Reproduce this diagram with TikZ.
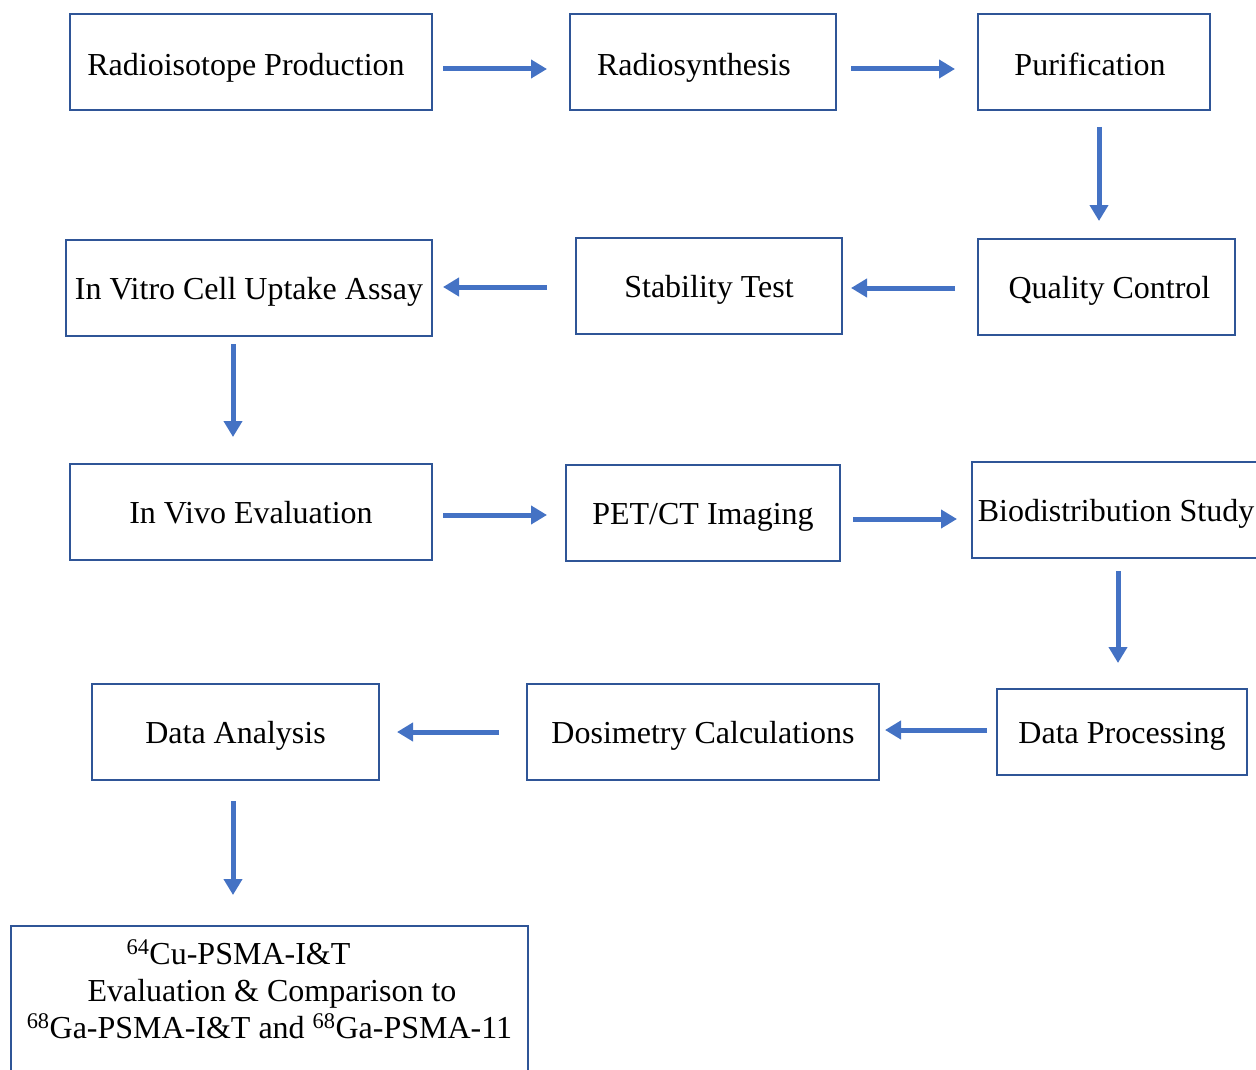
\documentclass[tikz,border=0pt]{standalone}
\usepackage{fontspec}
\setmainfont{Liberation Serif}
\usetikzlibrary{arrows.meta}
\definecolor{boxblue}{HTML}{2F5597}
\definecolor{arrblue}{HTML}{4472C4}
\tikzset{
  box/.style={draw=boxblue, line width=2pt, rectangle, inner sep=0pt, minimum height=96pt,
    font=\fontsize{32}{37}\selectfont, text=black, text height=22pt, text depth=0pt},
  toprow/.style={text height=28pt},
  arr/.style={draw=arrblue, line width=5pt, -{Triangle[length=16pt,width=18pt]}}
}
\newcommand{\padgap}[1]{\makebox[#1]{}}
\begin{document}
\begin{tikzpicture}[x=1pt,y=-1pt]
\useasboundingbox (0,0) rectangle (1256,1070);
\node[box, toprow, minimum width=362pt] (n1) at (251,62) {Radioisotope Production\padgap{10pt}};
\node[box, toprow, minimum width=266pt] (n2) at (703,62) {Radiosynthesis\padgap{18pt}};
\node[box, toprow, minimum width=232pt] (n3) at (1094,62) {Purification\padgap{8pt}};
\node[box, minimum width=257pt] (n4) at (1106.5,287) {\padgap{6pt}Quality Control};
\node[box, minimum width=266pt] (n5) at (709,286) {Stability Test};
\node[box, minimum width=366pt] (n6) at (249,288) {In Vitro Cell Uptake Assay};
\node[box, minimum width=362pt] (n7) at (251,512) {In Vivo Evaluation};
\node[box, minimum width=274pt] (n8) at (703,513) {PET/CT Imaging};
\node[box, minimum width=288pt] (n9) at (1116,510) {Biodistribution Study};
\node[box, minimum width=250pt, minimum height=86pt] (n10) at (1122,732) {Data Processing};
\node[box, minimum width=352pt] (n11) at (703,732) {Dosimetry Calculations};
\node[box, minimum width=287pt] (n12) at (235.5,732) {Data Analysis};
\node[box, minimum width=517pt, minimum height=0pt, align=center, anchor=north,
  text height=112pt, text depth=160pt] (n13) at (269.5,925)
  {\textsuperscript{64}Cu-PSMA-I\&T\padgap{62pt}\\
   \padgap{5pt}Evaluation \& Comparison to\\
   \textsuperscript{68}Ga-PSMA-I\&T and \textsuperscript{68}Ga-PSMA-11};
% connectors
\draw[arr, shorten <=10pt, shorten >=22pt] ([yshift=-7pt]n1.east) -- ([yshift=-7pt]n2.west);
\draw[arr, shorten <=14pt, shorten >=22pt] ([yshift=-7pt]n2.east) -- ([yshift=-7pt]n3.west);
\draw[arr, shorten <=16pt, shorten >=17pt] ([xshift=5pt]n3.south) -- ([xshift=-7.5pt]n4.north);
\draw[arr, shorten <=22pt, shorten >=8pt] ([yshift=-1pt]n4.west) -- ([yshift=-2pt]n5.east);
\draw[arr, shorten <=28pt, shorten >=10pt] ([yshift=-1pt]n5.west) -- ([yshift=1pt]n6.east);
\draw[arr, shorten <=7pt, shorten >=26pt] ([xshift=-16pt]n6.south) -- ([xshift=-18pt]n7.north);
\draw[arr, shorten <=10pt, shorten >=18pt] ([yshift=-3pt]n7.east) -- ([yshift=-2pt]n8.west);
\draw[arr, shorten <=12pt, shorten >=14pt] ([yshift=-6pt]n8.east) -- ([yshift=-9pt]n9.west);
\draw[arr, shorten <=12pt, shorten >=25pt] ([xshift=2pt]n9.south) -- ([xshift=-4pt]n10.north);
\draw[arr, shorten <=9pt, shorten >=5pt] ([yshift=2pt]n10.west) -- ([yshift=2pt]n11.east);
\draw[arr, shorten <=27pt, shorten >=17pt] (n11.west) -- (n12.east);
\draw[arr, shorten <=20pt, shorten >=30pt] ([xshift=-2.5pt]n12.south) -- ([xshift=-36.5pt]n13.north);
\end{tikzpicture}
\end{document}
